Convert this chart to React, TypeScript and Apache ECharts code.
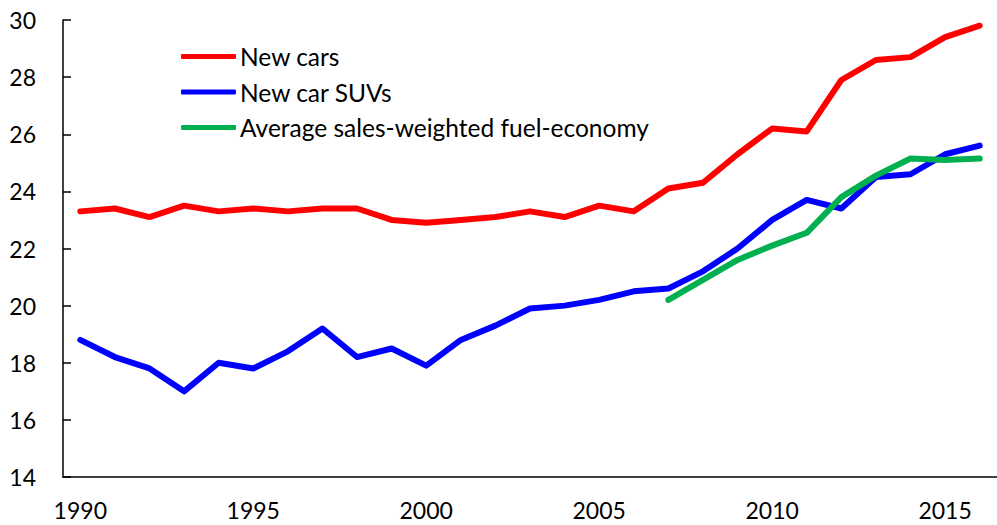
import React, { useEffect, useRef } from "react";
import * as echarts from "echarts";

const years = [
  "1990", "1991", "1992", "1993", "1994", "1995", "1996", "1997", "1998", "1999",
  "2000", "2001", "2002", "2003", "2004", "2005", "2006", "2007", "2008", "2009",
  "2010", "2011", "2012", "2013", "2014", "2015", "2016",
];

const newCars = [
  23.3, 23.4, 23.1, 23.5, 23.3, 23.4, 23.3, 23.4, 23.4, 23.0,
  22.9, 23.0, 23.1, 23.3, 23.1, 23.5, 23.3, 24.1, 24.3, 25.3,
  26.2, 26.1, 27.9, 28.6, 28.7, 29.4, 29.8,
];

const newCarSUVs = [
  18.8, 18.2, 17.8, 17.0, 18.0, 17.8, 18.4, 19.2, 18.2, 18.5,
  17.9, 18.8, 19.3, 19.9, 20.0, 20.2, 20.5, 20.6, 21.2, 22.0,
  23.0, 23.7, 23.4, 24.5, 24.6, 25.3, 25.6,
];

const avgSalesWeighted = [
  null, null, null, null, null, null, null, null, null, null,
  null, null, null, null, null, null, null, 20.2, 20.9, 21.6,
  22.1, 22.55, 23.8, 24.55, 25.15, 25.1, 25.15,
];

const seriesNames = ["New cars", "New car SUVs", "Average sales-weighted fuel-economy"];
const seriesColors = ["#FF0000", "#0000FF", "#00B050"];

const FONT = "Lato, 'Open Sans', sans-serif";

export default function App() {
  const ref = useRef<HTMLDivElement>(null);
  useEffect(() => {
    if (!ref.current) return;
    const chart = echarts.init(ref.current, undefined, { renderer: "svg" });
    const data = [newCars, newCarSUVs, avgSalesWeighted];
    chart.setOption({
      animation: false,
      backgroundColor: "#ffffff",
      textStyle: { fontFamily: FONT },
      grid: { left: 63, right: -3, top: 20, bottom: 48, containLabel: false },
      legend: {
        orient: "vertical",
        left: 181,
        top: 44,
        padding: 0,
        itemWidth: 55,
        itemHeight: 5,
        itemGap: 10.5,
        icon: "roundRect",
        textStyle: { fontSize: 24.5, color: "#000", fontFamily: FONT, padding: [0, 0, 0, -1] },
        data: seriesNames,
      },
      xAxis: {
        type: "category",
        data: years,
        boundaryGap: true,
        axisLine: { lineStyle: { color: "#000", width: 1.5 } },
        axisTick: { inside: true, length: 8, interval: 0, lineStyle: { color: "#000", width: 1.5 } },
        axisLabel: { interval: 4, margin: 21, fontSize: 23, color: "#000", fontFamily: FONT },
        splitLine: { show: false },
      },
      yAxis: {
        type: "value",
        min: 14,
        max: 30,
        interval: 2,
        axisLine: { show: true, lineStyle: { color: "#000", width: 1.5 } },
        axisTick: { show: true, inside: true, length: 8, lineStyle: { color: "#000", width: 1.5 } },
        axisLabel: { margin: 27, fontSize: 23, color: "#000", fontFamily: FONT },
        splitLine: { show: false },
      },
      series: seriesNames.map((name, i) => ({
        name,
        type: "line",
        data: data[i],
        showSymbol: false,
        symbol: "none",
        connectNulls: false,
        color: seriesColors[i],
        lineStyle: { color: seriesColors[i], width: 6, cap: "round", join: "round" },
      })),
    });
    return () => chart.dispose();
  }, []);
  return <div ref={ref} style={{ width: 997, height: 525, position: "absolute", left: 0, top: 0 }} />;
}
